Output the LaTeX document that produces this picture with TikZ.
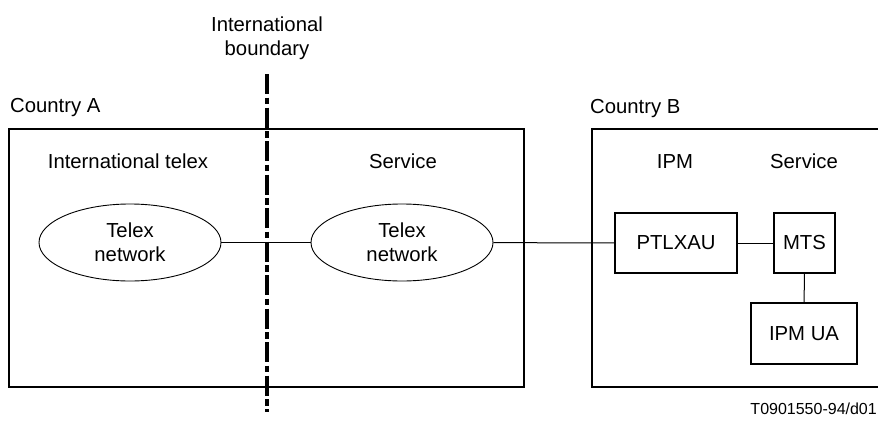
\documentclass[tikz,border=0pt]{standalone}
\usepackage{fontspec}
\setmainfont{Liberation Sans}
\usetikzlibrary{shapes.geometric}
\begin{document}
\begin{tikzpicture}[x=1pt,y=-1pt,
  every node/.style={font=\fontsize{20.3}{24}\selectfont, inner sep=0pt},
  lbl/.style={anchor=base},
  net/.style={ellipse, draw, line width=0.9pt, minimum width=182pt, minimum height=77pt, align=center},
  unit/.style={draw, line width=1.1pt, minimum height=60pt},
  country/.style={line width=1.4pt},
  conn/.style={line width=1pt},
  border/.style={line width=4pt, dash pattern=on 20pt off 3.5pt on 6.5pt off 3.5pt}
]
\useasboundingbox (0,0) rectangle (878,423);
% country boxes
\draw[country] (9,129) rectangle (524,387);
\draw[country] (880,129) -- (592,129) -- (592,387) -- (880,387);
% labels
\node[lbl, align=center] (ib) at (267,55) {International\\[-0.5pt]boundary};
\node[lbl, anchor=base west] (ca) at (10,112) {Country A};
\node[lbl, anchor=base west] (cb) at (590,113) {Country B};
\node[lbl] (itx) at (128,168) {International telex};
\node[lbl] (sva) at (403,168) {Service};
\node[lbl] (ipm) at (675,168) {IPM};
\node[lbl] (svb) at (804,168) {Service};
% boundary line
\coordinate (bt) at (267,74);
\coordinate (bb) at (267,412);
\draw[border] (bt) -- (bb);
% networks
\node[net] (n1) at (130,242.5) {Telex\\network};
\node[net] (n2) at (402,242.5) {Telex\\network};
\node[unit, minimum width=122pt] (pt) at (676,243) {PTLXAU};
\node[unit, minimum width=61pt] (mts) at (804.5,243) {MTS};
\node[draw, line width=1.1pt, minimum width=106pt, minimum height=61pt] (ua) at (804,333.5) {IPM UA};
% connectors
\draw[conn] (n1) -- (n2);
\draw[conn] (n2) -- (pt);
\draw[conn] (pt) -- (mts);
\draw[conn] (mts) -- (ua);
% reference
\node[anchor=base east, font=\fontsize{16}{19}\selectfont] (ref) at (877,414) {T0901550-94/d01};
\end{tikzpicture}
\end{document}
